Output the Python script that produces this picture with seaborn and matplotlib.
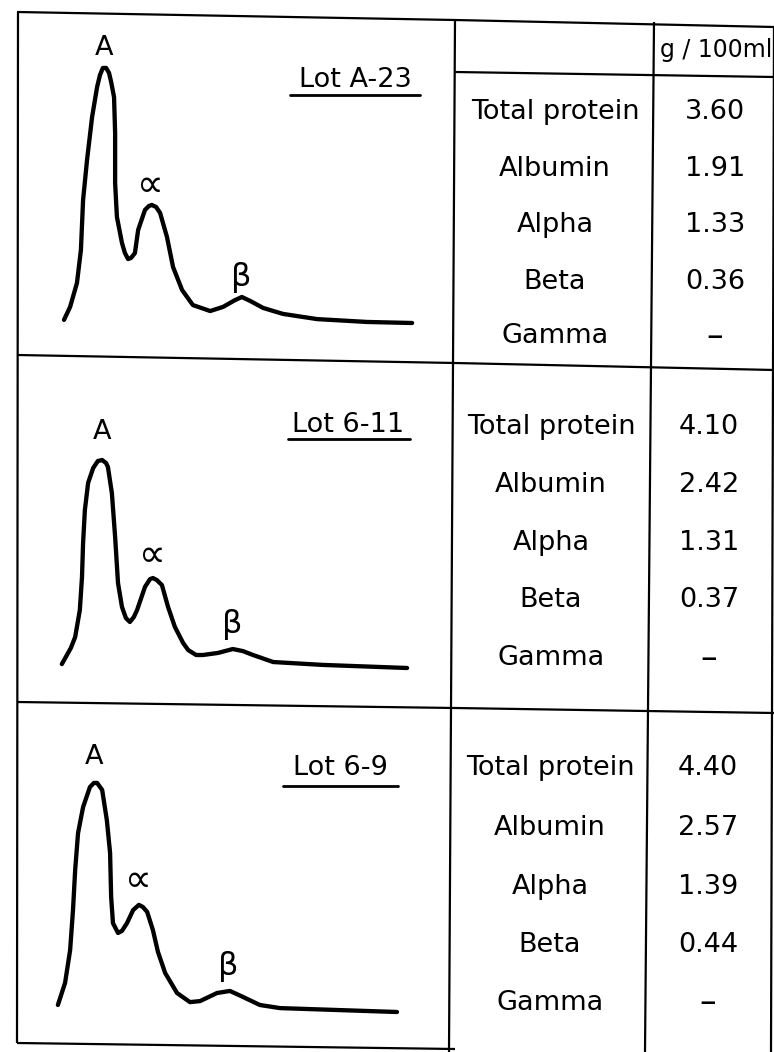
import matplotlib
matplotlib.use("Agg")
import matplotlib.pyplot as plt
import seaborn as sns

# densitometer traces: migration distance (arb. mm) vs optical density (arb.)
lot_names = ["Lot A-23", "Lot 6-11", "Lot 6-9"]

dist_a23 = [2.5, 4.2, 6.1, 7.2, 7.8, 8.9, 10.3, 11.7, 12.5, 13.3, 14.2, 15.0, 15.6, 16.4,
            16.7, 16.7, 17.2, 18.6, 19.4, 20.3, 21.1, 22.2, 23.1, 25.0, 26.1, 26.9, 28.1,
            29.2, 31.1, 32.8, 35.3, 38.3, 43.1, 46.7, 50.0, 51.9, 54.2, 57.8, 63.3, 72.8,
            86.7, 99.2]
od_a23 = [1.2, 6.2, 15.4, 28.1, 47.3, 62.7, 79.2, 90.8, 95.4, 98.1, 98.1, 96.2, 92.7, 86.9,
          73.1, 53.8, 40.8, 30.8, 27.0, 24.6, 25.0, 26.9, 35.8, 43.5, 45.0, 45.4, 44.6,
          42.3, 33.1, 21.5, 12.7, 6.9, 4.6, 6.2, 8.8, 10.0, 8.5, 5.8, 3.5, 1.5,
          0.4, 0.0]

dist_611 = [1.9, 4.4, 5.6, 6.9, 7.5, 7.8, 8.3, 9.2, 10.6, 11.9, 13.1, 14.2, 14.7, 15.8,
            16.7, 17.5, 18.6, 19.7, 20.8, 21.9, 22.8, 25.0, 26.4, 27.2, 28.3, 29.7, 31.4,
            33.3, 35.6, 37.0, 39.2, 41.1, 45.3, 49.4, 52.2, 55.0, 60.6, 74.2, 97.8]
od_611 = [1.5, 7.7, 11.9, 22.3, 35.0, 48.1, 60.8, 71.2, 76.9, 79.6, 80.0, 78.8, 77.3, 67.3,
          50.4, 32.7, 23.5, 19.2, 17.7, 19.6, 22.3, 31.2, 34.2, 34.6, 33.8, 31.9, 23.5,
          15.8, 9.6, 6.9, 5.0, 5.0, 5.8, 7.3, 6.5, 5.0, 2.3, 1.2, 0.0]

dist_69 = [0.8, 2.8, 4.2, 5.0, 5.6, 6.4, 7.8, 9.7, 10.8, 11.7, 13.1, 14.4, 15.3, 15.6,
           16.1, 17.5, 18.6, 20.0, 21.7, 23.3, 24.4, 25.6, 27.2, 28.6, 30.6, 33.9, 37.5,
           40.3, 45.0, 48.6, 52.2, 56.9, 62.5, 95.0]
od_69 = [2.7, 11.2, 23.8, 39.2, 54.6, 68.8, 78.8, 86.5, 88.1, 88.1, 85.4, 73.8, 61.2, 44.2,
         34.2, 30.4, 31.2, 34.2, 39.2, 41.2, 40.4, 38.5, 31.5, 23.1, 15.0, 7.3, 3.8,
         4.2, 7.3, 8.1, 5.8, 2.7, 1.5, 0.0]

fractions = ["Total protein", "Albumin", "Alpha", "Beta", "Gamma"]
unit_label = "g / 100ml"
vals_a23 = ["3.60", "1.91", "1.33", "0.36", "\u2013"]
vals_611 = ["4.10", "2.42", "1.31", "0.37", "\u2013"]
vals_69 = ["4.40", "2.57", "1.39", "0.44", "\u2013"]

W, H = 774, 1052
sns.set_theme(style="white")
plt.rcParams["font.family"] = ["DejaVu Sans"]

fig = plt.figure(figsize=(W / 100, H / 100), dpi=100)
fig.patch.set_facecolor("white")

# frame / table rules in pixel space
frame = fig.add_axes([0, 0, 1, 1])
frame.set_xlim(0, W)
frame.set_ylim(H, 0)
frame.axis("off")
lw = 1.6
rules = [
    ([17, 455, 774], [12, 20, 27]),          # top
    ([17, 455, 774], [355, 363, 370]),       # divider 1
    ([17, 455, 774], [702, 708, 713]),       # divider 2
    ([17, 455], [1043, 1049]),               # bottom
    ([455, 774], [72, 77]),                  # header rule
    ([18, 17], [12, 1043]),                  # left
    ([455, 449], [20, 1052]),                # column 1
    ([654, 645], [22, 1052]),                # column 2
    ([774, 771], [27, 1052]),                # right
]
for xs, ys in rules:
    frame.plot(xs, ys, color="black", lw=lw, solid_capstyle="butt")

fs = 19.5


def px_text(x, y, s, size=fs, **kw):
    fig.text(x / W, 1 - y / H, s, fontsize=size, ha="center", va="center",
             color="black", **kw)


px_text(716, 50, unit_label, size=17)

panels = [
    (dist_a23, od_a23, vals_a23, 323, 555, 715, [112, 169, 225, 282, 336],
     (355, 80, 290, 420, 95), [(104, 48), (150, 186), (241, 277)]),
    (dist_611, od_611, vals_611, 668, 551, 709, [427, 485, 543, 600, 658],
     (348, 425, 288, 410, 439), [(102, 432), (152, 556), (232, 624)]),
    (dist_69, od_69, vals_69, 1012, 550, 708, [768, 828, 887, 945, 1003],
     (340, 768, 283, 398, 786), [(94, 757), (138, 881), (228, 966)]),
]

for (dist, od, vals, base, lab_x, val_x, rows, lot, peaks), name in zip(panels, lot_names):
    # axes maps dist 0 -> px 55, 3.6 px per unit; od 0 -> base, 2.6 px per unit
    left = (55 - 10 * 3.6) / W
    width = 120 * 3.6 / W
    bottom = 1 - (base + 8 * 2.6) / H
    height = 118 * 2.6 / H
    ax = fig.add_axes([left, bottom, width, height])
    ax.patch.set_alpha(0)
    sns.lineplot(x=dist, y=od, sort=False, estimator=None, color="black",
                 lw=3.1, ax=ax, solid_joinstyle="round", solid_capstyle="round")
    ax.set_xlim(-10, 110)
    ax.set_ylim(-8, 110)
    ax.axis("off")

    cx, cy, ux0, ux1, uy = lot
    px_text(cx, cy, name)
    frame.plot([ux0, ux1], [uy, uy], color="black", lw=2.0)

    for (px, py), lbl, sz in zip(peaks, ["A", "\u221d", "\u03b2"], [fs, 27, 23]):
        px_text(px, py, lbl, size=sz)

    for y, f, v in zip(rows, fractions, vals):
        px_text(lab_x, y, f)
        px_text(val_x, y, v, size=fs if v != "\u2013" else 24)

fig.savefig("out.png", dpi=100, facecolor="white")
